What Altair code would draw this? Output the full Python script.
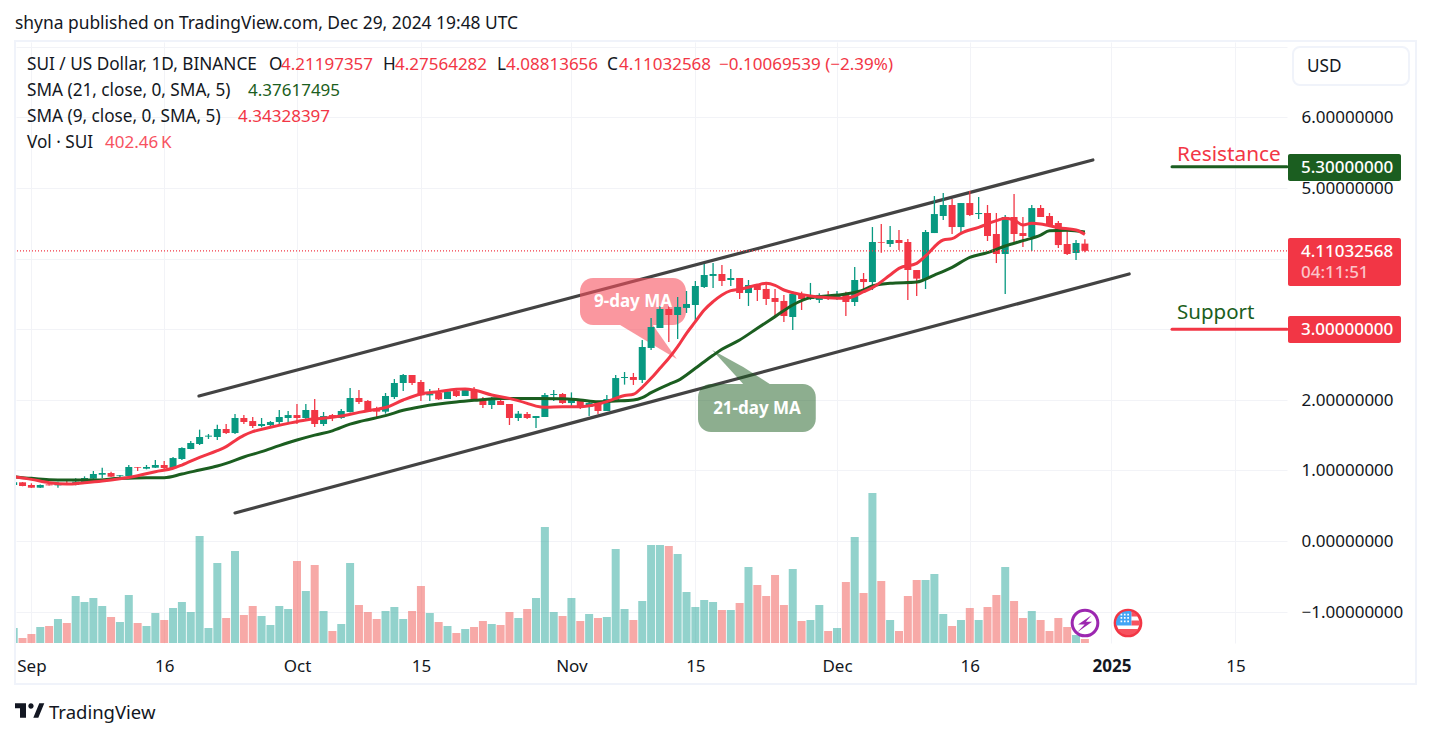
import altair as alt
import pandas as pd

FONT = "Noto Sans"
INK = "#131722"
RED = "#F23645"
GREEN = "#089981"
DARK = "#1B5E20"
GRID = "#F2F3F7"
BORDER = "#F0F3FA"

DAY_MS = 86400000
T0 = int(pd.Timestamp("2024-09-01", tz="UTC").timestamp() * 1000)
FIRST_DAY = -2

opens = [.793,.831,.793,.755,.802,.788,.817,.793,.817,.883,.939,.963,.925,.920,1.048,1.024,1.038,1.076,1.029,1.161,1.303,1.374,1.478,1.473,1.586,1.529,1.742,1.699,1.629,1.643,1.685,1.742,1.784,1.742,1.855,1.657,1.784,1.742,1.827,2.025,1.983,1.874,1.832,2.039,2.238,2.351,2.252,2.063,2.096,2.011,2.124,2.054,2.138,2.011,1.926,1.983,1.940,1.742,1.799,1.742,1.756,2.068,2.082,1.954,1.997,1.898,1.954,1.841,1.997,2.309,2.323,2.281,2.734,3.017,3.286,3.201,3.301,3.343,3.598,3.754,3.782,3.697,3.725,3.513,3.626,3.570,3.442,3.400,3.173,3.499,3.428,3.414,3.461,3.456,3.484,3.385,3.711,3.668,4.235,4.207,4.263,4.235,3.838,3.711,4.362,4.603,4.759,4.447,4.787,4.631,4.646,4.348,4.065,4.589,4.362,4.306,4.716,4.603,4.504,4.207,4.079,4.212]
highs = [.84,.835,.817,.80,.805,.840,.850,.887,.916,.991,1.038,.982,.935,1.076,1.048,1.076,1.147,1.133,1.190,1.326,1.416,1.577,1.515,1.648,1.657,1.799,1.784,1.756,1.742,1.699,1.855,1.841,1.940,1.940,2.011,1.827,1.799,1.869,2.167,2.138,1.997,1.902,2.096,2.294,2.365,2.351,2.280,2.153,2.167,2.153,2.153,2.167,2.181,2.039,2.039,2.054,1.940,1.841,1.827,1.770,2.096,2.138,2.096,2.105,2.011,1.983,1.969,2.068,2.351,2.394,2.380,2.847,3.159,3.329,3.329,3.456,3.541,3.683,3.924,3.938,3.910,3.853,3.725,3.697,3.640,3.669,3.570,3.485,3.537,3.532,3.655,3.508,3.541,3.541,3.532,3.881,3.796,4.447,4.490,4.462,4.405,4.277,3.838,4.405,4.886,4.929,4.844,4.787,4.957,4.872,4.759,4.646,4.617,4.915,4.589,4.759,4.759,4.646,4.532,4.419,4.263,4.27564]
lows = [.785,.775,.75,.75,.785,.755,.795,.79,.81,.88,.892,.905,.869,.92,.991,1.015,1.035,1.020,1.02,1.147,1.30,1.360,1.445,1.430,1.515,1.515,1.657,1.600,1.610,1.600,1.629,1.685,1.657,1.723,1.614,1.629,1.699,1.732,1.82,1.940,1.832,1.747,1.803,2.011,2.124,2.209,1.983,1.983,1.997,2.011,2.039,2.054,1.997,1.884,1.869,1.926,1.643,1.699,1.728,1.600,1.756,1.983,1.940,1.884,1.869,1.770,1.799,1.841,1.969,2.215,2.210,2.238,2.706,3.017,2.819,2.861,3.230,3.102,3.584,3.584,3.612,3.612,3.428,3.329,3.400,3.343,3.159,3.102,2.989,3.272,3.414,3.371,3.414,3.414,3.187,3.328,3.513,3.555,4.084,4.164,4.122,3.413,3.470,3.569,4.362,4.546,4.348,4.362,4.603,4.561,4.249,3.937,3.498,4.235,4.164,4.107,4.589,4.462,4.150,4.051,3.980,4.08814]
closes = [.831,.779,.755,.793,.788,.812,.798,.840,.892,.949,.963,.911,.935,1.048,1.038,1.048,1.076,1.034,1.175,1.317,1.388,1.473,1.492,1.586,1.529,1.742,1.685,1.629,1.657,1.685,1.756,1.784,1.742,1.855,1.657,1.770,1.742,1.841,2.025,1.969,1.832,1.832,2.054,2.238,2.351,2.238,2.063,2.091,2.006,2.120,2.054,2.138,1.997,1.926,1.997,1.926,1.742,1.803,1.742,1.770,2.068,2.082,1.954,1.997,1.898,1.954,1.841,2.011,2.308,2.323,2.281,2.748,3.031,3.286,3.201,3.315,3.357,3.612,3.768,3.782,3.683,3.725,3.513,3.626,3.555,3.428,3.386,3.187,3.499,3.428,3.461,3.485,3.428,3.471,3.385,3.697,3.668,4.235,4.225,4.263,4.221,3.838,3.716,4.377,4.631,4.759,4.447,4.787,4.617,4.646,4.320,4.065,4.589,4.348,4.320,4.716,4.589,4.476,4.192,4.065,4.221,4.11033]
volumes = [1.5,.5,.9,1.6,1.7,2.4,2.0,4.7,4.1,4.5,3.7,2.6,2.1,4.8,2.0,1.7,3.0,2.3,3.5,4.1,3.1,10.7,1.5,8.0,2.5,9.2,2.8,3.7,2.7,1.8,3.7,3.4,8.2,5.2,7.8,3.2,1.2,1.9,8.0,3.8,3.1,2.4,3.2,3.6,2.4,3.2,5.7,3.0,2.1,1.7,1.0,1.4,1.6,2.2,1.9,1.8,3.1,2.5,3.4,4.5,11.6,3.1,2.7,4.5,2.2,2.9,2.5,2.6,9.4,3.4,2.3,4.2,9.8,9.8,9.7,8.9,5.1,3.6,4.3,4.1,3.3,3.3,4.0,7.6,5.8,4.7,6.8,3.8,7.4,2.2,2.3,3.8,1.2,1.5,6.1,10.6,5.0,15.0,6.2,2.3,1.2,4.7,6.3,6.3,6.9,2.9,1.7,2.3,3.5,2.3,3.6,4.8,7.6,4.2,2.5,3.2,2.3,1.2,2.5,1.6,.8,.40246]

ma9_days = [-2,0,2,4,6,8,10,12,14,16,17,19,21,22,23,24,25,27,29,31,33,35,37,38,40,42,44,46,48,49,50,52,54,56,57,58,60,62,64,65,66,67,68,69,70,71,72,73,74,75,76,77,78,79,80,82,83,84,85,86,88,90,92,94,95,97,98,100,101,103,104,105,107,109,110,111,112,113,114,116,118,119]
ma9_vals = [.911,.873,.826,.807,.826,.850,.883,.925,.982,1.030,1.076,1.185,1.279,1.336,1.421,1.495,1.548,1.610,1.666,1.714,1.740,1.770,1.822,1.845,1.890,1.997,2.082,2.115,2.148,2.153,2.138,2.068,2.020,1.950,1.910,1.893,1.902,1.902,1.940,1.974,2.020,2.060,2.078,2.177,2.304,2.446,2.588,2.753,2.942,3.107,3.272,3.390,3.485,3.546,3.565,3.626,3.650,3.622,3.555,3.518,3.471,3.447,3.437,3.531,3.588,3.768,3.862,3.933,4.037,4.263,4.282,4.358,4.443,4.537,4.570,4.546,4.476,4.499,4.490,4.438,4.405,4.34328]
ma21_days = [-2,0,2,4,7,10,13,15,17,19,21,22,24,26,28,30,32,34,36,37,38,40,42,44,46,48,50,53,57,60,62,64,66,68,69,70,72,73,75,76,77,78,80,82,84,86,88,89,92,94,95,97,100,102,104,106,108,110,112,114,115,117,119]
ma21_vals = [.911,.887,.869,.864,.864,.887,.897,.897,.948,1.005,1.062,1.100,1.190,1.265,1.350,1.430,1.500,1.560,1.655,1.690,1.718,1.775,1.851,1.902,1.940,1.969,1.992,2.020,2.020,2.016,1.997,1.973,1.983,1.997,2.031,2.101,2.219,2.271,2.446,2.540,2.630,2.715,2.847,3.013,3.178,3.343,3.447,3.461,3.498,3.555,3.612,3.650,3.668,3.767,3.876,4.018,4.084,4.178,4.254,4.334,4.395,4.400,4.37617]

upper_channel = {"days": [18.93, 119.9], "prices": [2.054, 5.397]}
lower_channel = {"days": [23.0, 124.0], "prices": [0.397, 3.782]}

axis_days = [0, 15, 30, 44, 61, 75, 91, 106, 122, 136]
price_ticks = [-1, 0, 1, 2, 3, 4, 5, 6, 7]

X_DOMAIN = [T0 + (-1.74) * DAY_MS, T0 + 141.83 * DAY_MS]
Y_DOMAIN = [-1.445, 7.068]
V_DOMAIN = [0, 60.1]


def ms(d):
    return T0 + d * DAY_MS


x_scale = alt.Scale(type="utc", domain=X_DOMAIN, nice=False, padding=0)
p_scale = alt.Scale(domain=Y_DOMAIN, nice=False, zero=False)
v_scale = alt.Scale(domain=V_DOMAIN, nice=False)

X = alt.X("t:T", scale=x_scale, axis=None)
Y = alt.Y("p:Q", scale=p_scale, axis=None)

days = list(range(FIRST_DAY, FIRST_DAY + len(closes)))
bars = pd.DataFrame({
    "t": [ms(d) for d in days],
    "o": opens, "h": highs, "l": lows, "c": closes, "v": volumes,
})
bars["dir"] = ["up" if c >= o else "down" for o, c in zip(opens, closes)]


def T(text, px, py, color=INK, size=17.2, weight=400, align="left", opacity=1):
    return alt.Chart().mark_text(
        align=align, baseline="middle", font=FONT, fontSize=size,
        fontWeight=weight, color=color, opacity=opacity,
    ).encode(x=alt.value(px - 16), y=alt.value(py - 42), text=alt.value(text))


def BOX(x0, y0, x1, y1, fill="transparent", stroke=None, radius=0, sw=1):
    kw = {"fill": fill, "cornerRadius": radius}
    if stroke:
        kw.update(stroke=stroke, strokeWidth=sw)
    return alt.Chart().mark_rect(**kw).encode(
        x=alt.value(x0 - 16), x2=alt.value(x1 - 16),
        y=alt.value(y0 - 42), y2=alt.value(y1 - 42),
    )


def ICON(path, px, py, half, color):
    return alt.Chart().mark_point(
        shape=path, size=(2 * half) ** 2, filled=True, color=color,
        opacity=1, strokeWidth=0,
    ).encode(x=alt.value(px - 16), y=alt.value(py - 42))


def CIRCLE(px, py, r, color, sw=3):
    return alt.Chart().mark_point(
        shape="circle", size=3.14159 * r * r, filled=True, fill="white",
        stroke=color, strokeWidth=sw, opacity=1,
    ).encode(x=alt.value(px - 16), y=alt.value(py - 42))


# Axes and grid ---------------------------------------------------------
axis_layer = alt.Chart(pd.DataFrame({"t": [ms(0)], "p": [0.0]})).mark_point(opacity=0).encode(
    x=alt.X("t:T", scale=x_scale, axis=alt.Axis(
        values=[ms(d) for d in axis_days], grid=True, gridColor=GRID, gridWidth=1,
        domain=False, ticks=False, labelFont=FONT, labelFontSize=17, labelColor=INK,
        labelPadding=15, labelFlush=False, labelOverlap=False, labelBound=False,
        title=None,
        labelExpr="utcdate(datum.value)==1 ? (utcmonth(datum.value)==0 ? utcFormat(datum.value,'%Y') : utcFormat(datum.value,'%b')) : utcFormat(datum.value,'%-d')",
        labelFontWeight={"condition": {"test": "utcmonth(datum.value)==0 && utcdate(datum.value)==1", "value": 700}, "value": 400},
    )),
    y=alt.Y("p:Q", scale=p_scale, axis=alt.Axis(
        orient="right", values=price_ticks, format=".8f", grid=True, gridColor=GRID,
        gridWidth=1, domain=False, ticks=False, labelFont=FONT, labelFontSize=17,
        labelColor=INK, labelPadding=14, labelOverlap=False, labelBound=False,
        labelFlush=False, title=None, labelOffset=0.5,
        labelExpr="datum.value==7 ? '' : datum.label",
    )),
)

# Channel lines ---------------------------------------------------------
channel_df = pd.DataFrame({
    "t": [ms(d) for d in upper_channel["days"] + lower_channel["days"]],
    "p": upper_channel["prices"] + lower_channel["prices"],
    "g": ["u", "u", "l", "l"],
})
channel = alt.Chart(channel_df).mark_line(color="#434343", strokeWidth=3.2, strokeCap="round").encode(
    x=X, y=Y, detail="g:N")

# Callouts ---------------------------------------------------------------
def bubble(d0, d1, p0, p1, color, opacity):
    df = pd.DataFrame({"t": [ms(d0)], "t2": [ms(d1)], "p": [p0], "p2": [p1]})
    return alt.Chart(df).mark_rect(color=color, opacity=opacity, cornerRadius=13).encode(
        x=X, x2="t2:T", y=Y, y2="p2:Q")


def pointer(ds, tops, bots, color, opacity):
    df = pd.DataFrame({"t": [ms(d) for d in ds], "p": tops, "p2": bots})
    return alt.Chart(df).mark_area(color=color, opacity=opacity, line=False).encode(
        x=X, y=Y, y2="p2:Q")


c9 = "#F7525F"
c21 = "#1B5E20"
callouts = [
    bubble(61.97, 73.94, 3.725, 3.059, c9, 0.6),
    pointer([66.5, 70.2, 72.9], [3.059, 3.059, 2.578], [3.059, 2.780, 2.578], c9, 0.6),
    bubble(75.3, 88.6, 2.224, 1.544, c21, 0.5),
    pointer([76.9, 80.4, 83.4], [2.705, 2.464, 2.224], [2.705, 2.224, 2.224], c21, 0.5),
]

# Volume -----------------------------------------------------------------
volume = alt.Chart(bars).mark_bar(size=8, clip=True, opacity=0.5).encode(
    x=X,
    y=alt.Y("v:Q", scale=v_scale, axis=None),
    color=alt.Color("dir:N", scale=alt.Scale(domain=["up", "down"], range=["#26a69a", "#ef5350"]), legend=None),
)

# Candles ----------------------------------------------------------------
candle_color = alt.Color("dir:N", scale=alt.Scale(domain=["up", "down"], range=[GREEN, RED]), legend=None)
wicks = alt.Chart(bars).mark_rule(strokeWidth=1.3, clip=True).encode(
    x=X, y=alt.Y("l:Q", scale=p_scale, axis=None), y2="h:Q", color=candle_color)
bodies = alt.Chart(bars).mark_bar(size=7, clip=True).encode(
    x=X, y=alt.Y("o:Q", scale=p_scale, axis=None), y2="c:Q", color=candle_color)

# Moving averages ---------------------------------------------------------
ma9 = alt.Chart(pd.DataFrame({"t": [ms(d) for d in ma9_days], "p": ma9_vals})).mark_line(
    color=RED, strokeWidth=3, interpolate="monotone", clip=True).encode(x=X, y=Y)
ma21 = alt.Chart(pd.DataFrame({"t": [ms(d) for d in ma21_days], "p": ma21_vals})).mark_line(
    color=DARK, strokeWidth=3, interpolate="monotone", clip=True).encode(x=X, y=Y)

# Last price, resistance and support ---------------------------------------
last_price = alt.Chart(pd.DataFrame({"p": [closes[-1]]})).mark_rule(
    color=RED, strokeWidth=1.2, strokeDash=[1, 2]).encode(y=Y)
levels_df = pd.DataFrame({
    "t": [ms(128.84)] * 2, "t2": [ms(141.83)] * 2, "p": [5.3, 3.0], "g": ["r", "s"],
})
res_line = alt.Chart(levels_df[levels_df.g == "r"]).mark_rule(color=DARK, strokeWidth=3, strokeCap="round").encode(x=X, x2="t2:T", y=Y)
sup_line = alt.Chart(levels_df[levels_df.g == "s"]).mark_rule(color=RED, strokeWidth=3, strokeCap="round").encode(x=X, x2="t2:T", y=Y)

# Icons ---------------------------------------------------------------------
LOGO = ("M-.967,-.48 L-.233,-.48 L-.233,.48 L-.633,.48 L-.633,-.147 L-.967,-.147 Z "
        "M-.08,-.3 A.178,.178 0 1 0 .276,-.3 A.178,.178 0 1 0 -.08,-.3 Z "
        "M.653,-.48 L.987,-.48 L.587,.48 L.253,.48 Z")
BOLT = "M.42,-.5 L-.45,.1 L-.02,.1 L-.5,.6 L.46,-.08 L.06,-.08 Z"
FLAG_RED = ("M-.866,.5 A1,1 0 0 0 .866,.5 Z "
            "M.28,-.2 L.98,-.2 L.98,.2 L.28,.2 Z "
            "M.28,-.96 A1,1 0 0 1 .83,-.55 L.28,-.55 Z")
FLAG_BLUE = "M-.98,.2 L.28,.2 L.28,-.96 A1,1 0 0 0 -.98,.2 Z"
dots = ""
for yy in (-.7, -.42, -.14):
    for xx in (-.55, -.27, .01):
        dots += f"M{xx - .07:.2f},{yy - .07:.2f} h.14 v.14 h-.14 Z "

layers = [
    axis_layer,
    channel,
    *callouts,
    volume,
    wicks,
    bodies,
    ma21,
    ma9,
    last_price,
    res_line,
    sup_line,
    BOX(15, 41, 1416, 684, stroke=BORDER, sw=2),
    BOX(1288, 154, 1401, 181, fill=DARK, radius=2),
    BOX(1288, 238, 1401, 286, fill=RED, radius=2),
    BOX(1288, 316, 1401, 343, fill=RED, radius=2),
    BOX(1293, 47, 1409, 85, fill="white", stroke=BORDER, radius=7, sw=2),
    T("shyna published on TradingView.com, Dec 29, 2024 19:48 UTC", 15, 24, size=17.4),
    T("SUI / US Dollar, 1D, BINANCE", 27, 65),
    T("O", 269, 65), T("4.21197357", 281, 65, RED, size=17),
    T("H", 383, 65), T("4.27564282", 395, 65, RED, size=17),
    T("L", 497, 65), T("4.08813656", 506, 65, RED, size=17),
    T("C", 607, 65), T("4.11032568", 619, 65, RED, size=17),
    T("\u22120.10069539 (\u22122.39%)", 719, 65, RED, size=17),
    T("SMA (21, close, 0, SMA, 5)", 27, 91), T("4.37617495", 248, 91, DARK, size=17),
    T("SMA (9, close, 0, SMA, 5)", 27, 117), T("4.34328397", 238, 117, RED, size=17),
    T("Vol \u00b7 SUI", 27, 143), T("402.46\u2009K", 105, 143, "#F7525F", size=17),
    T("USD", 1307, 67),
    T("Resistance", 1177, 155, RED, size=20.8),
    T("Support", 1177, 313, DARK, size=20.5),
    T("5.30000000", 1301, 168, "white", size=17, weight=500),
    T("4.11032568", 1301, 252, "white", size=17, weight=500),
    T("04:11:51", 1301, 273, "#FBC4C9", size=17, weight=500),
    T("3.00000000", 1301, 330, "white", size=17, weight=500),
    T("9-day MA", 633, 302, "white", size=17, weight=700, align="center"),
    T("21-day MA", 757, 409, "white", size=17, weight=700, align="center"),
    CIRCLE(1085, 623, 14.5, "#9C27B0"),
    ICON(BOLT, 1085, 623, 15.5, "#9C27B0"),
    CIRCLE(1128, 623, 14.5, RED),
    ICON(FLAG_RED, 1128, 623, 12, "#F7525F"),
    ICON(FLAG_BLUE, 1128, 623, 12, "#42A5F5"),
    ICON(dots, 1128, 623, 12, "white"),
    ICON(LOGO, 29.5, 710.5, 15, INK),
    T("TradingView", 49, 713, size=18.5),
]

chart = alt.layer(*layers).resolve_scale(
    x="independent", y="independent", color="independent"
).properties(
    width=1271, height=601,
    padding={"left": 8, "top": 34, "right": 136, "bottom": 87},
    autosize=alt.AutoSizeParams(type="none"),
    background="white",
).configure_view(stroke=None)

chart.save("out.html", embed_options={"renderer": "svg", "actions": False})
